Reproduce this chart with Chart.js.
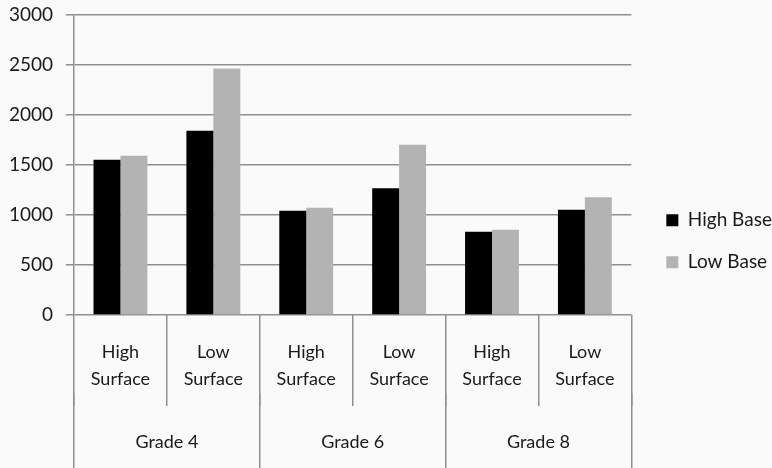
<!DOCTYPE html>
<html lang="en">
<head>
  <meta charset="UTF-8">
  <title>High Base / Low Base by grade</title>
  <script src="https://cdn.jsdelivr.net/npm/chart.js@4.4.0/dist/chart.umd.min.js"></script>
  <style>
    html, body { margin: 0; padding: 0; background: #fafafa; }
    #wrap { width: 772px; height: 468px; position: relative; }
  </style>
</head>
<body>
  <div id="wrap"><canvas id="chart"></canvas></div>
  <script>
    // values
    const subLabels = [["High", "Surface"], ["Low", "Surface"], ["High", "Surface"], ["Low", "Surface"], ["High", "Surface"], ["Low", "Surface"]];
    const grades = ["Grade 4", "Grade 6", "Grade 8"];
    const highBase = [1550, 1840, 1040, 1265, 830, 1050];
    const lowBase = [1590, 2460, 1070, 1700, 850, 1175];
    const yTicks = [0, 500, 1000, 1500, 2000, 2500, 3000];

    const lineCol = "#8f8f8f";
    const textCol = "#1a1a1a";
    const fam = "Lato, 'Open Sans', sans-serif";

    new Chart(document.getElementById("chart"), {
      type: "bar",
      data: {
        labels: subLabels,
        datasets: [
          { label: "High Base", data: highBase, backgroundColor: "#000000" },
          { label: "Low Base", data: lowBase, backgroundColor: "#b3b3b3" }
        ]
      },
      options: {
        responsive: true,
        maintainAspectRatio: false,
        animation: false,
        layout: { padding: { top: 14.5, left: 0, right: 0, bottom: 0 } },
        datasets: { bar: { categoryPercentage: 0.58, barPercentage: 1 } },
        plugins: {
          tooltip: { enabled: false },
          legend: {
            position: "right",
            labels: {
              boxWidth: 12, boxHeight: 12, padding: 23, color: textCol,
              font: { family: fam, size: 19 }
            }
          }
        },
        scales: {
          y: {
            min: yTicks[0], max: yTicks[yTicks.length - 1],
            afterBuildTicks: s => { s.ticks = yTicks.map(v => ({ value: v })); },
            afterFit: s => { s.width = 74; s.paddingTop = 0; s.paddingBottom = 0; },
            grid: { color: lineCol, lineWidth: 1.5, tickLength: 8 },
            border: { display: true, color: lineCol, width: 1.5 },
            ticks: {
              color: textCol, padding: 13, font: { family: fam, size: 19 },
              callback: v => String(v)
            }
          },
          yspace: {
            position: "right", display: true,
            grid: { display: false }, border: { display: false }, ticks: { display: false },
            afterFit: s => { s.width = 12; }
          },
          x: {
            weight: 0,
            offset: true,
            grid: { offset: true, drawOnChartArea: false, tickLength: 91, color: lineCol, lineWidth: 1.5 },
            border: { display: false },
            afterFit: s => { s.height = 78; },
            ticks: {
              autoSkip: false, maxRotation: 0, padding: -67.5, color: textCol,
              font: { family: fam, size: 18, lineHeight: 1.5 }
            }
          },
          x2: {
            type: "category",
            labels: grades,
            position: "bottom",
            weight: 1,
            offset: true,
            grid: { offset: true, drawOnChartArea: false, tickLength: 80, color: lineCol, lineWidth: 1.5 },
            border: { display: false },
            afterFit: s => { s.height = 75; },
            ticks: {
              autoSkip: false, maxRotation: 0, padding: -44.5, color: textCol,
              font: { family: fam, size: 18, lineHeight: 1.5 }
            }
          }
        }
      }
    });
  </script>
</body>
</html>
